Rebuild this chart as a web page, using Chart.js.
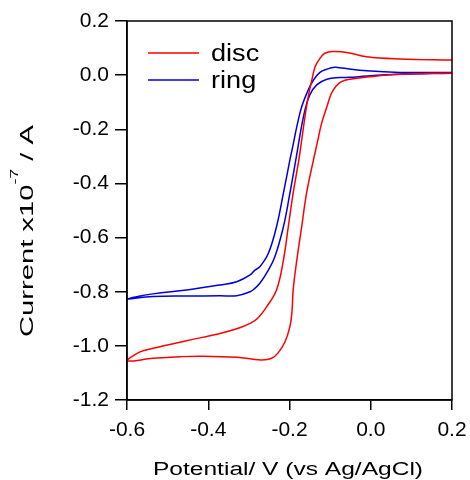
<!DOCTYPE html>
<html>
<head>
<meta charset="utf-8">
<script src="https://cdn.jsdelivr.net/npm/chart.js@4.4.0/dist/chart.umd.min.js"></script>
<style>
  html, body { margin: 0; padding: 0; background: #fff; }
</style>
</head>
<body>
<canvas id="cv" width="470" height="480"></canvas>
<script>
// values (potential in V, current in 1e-7 A)
const seriesNames = ["disc", "ring"];
const seriesColors = ["#ff0000", "#0000dd"];

const discPotential = [0.200, 0.072, -0.009, -0.051, -0.072, -0.085, -0.097, -0.108, -0.121, -0.132,
  -0.141, -0.158, -0.170, -0.182, -0.191, -0.194, -0.199, -0.211, -0.228, -0.244,
  -0.270, -0.330, -0.413, -0.470, -0.536, -0.600, -0.568, -0.536, -0.453, -0.371,
  -0.326, -0.297, -0.279, -0.256, -0.232, -0.215, -0.203, -0.191, -0.177, -0.170,
  -0.162, -0.154, -0.145, -0.137, -0.125, -0.113, -0.093, -0.059, -0.010, 0.072, 0.200];
const discCurrent = [0.008, 0.003, -0.007, -0.015, -0.024, -0.040, -0.068, -0.117, -0.178, -0.252,
  -0.313, -0.436, -0.560, -0.683, -0.794, -0.875, -0.929, -0.985, -1.026, -1.046,
  -1.052, -1.042, -1.038, -1.040, -1.046, -1.055, -1.022, -1.009, -0.981, -0.954,
  -0.935, -0.917, -0.899, -0.855, -0.794, -0.683, -0.560, -0.436, -0.313, -0.240,
  -0.154, -0.080, -0.018, 0.031, 0.062, 0.081, 0.087, 0.084, 0.068, 0.060, 0.056];

const ringPotential = [0.200, 0.072, -0.010, -0.051, -0.076, -0.108, -0.133, -0.150, -0.162, -0.172,
  -0.183, -0.199, -0.215, -0.236, -0.252, -0.273, -0.287, -0.297, -0.330, -0.371,
  -0.453, -0.536, -0.600, -0.536, -0.453, -0.371, -0.330, -0.297, -0.285, -0.273,
  -0.252, -0.232, -0.215, -0.199, -0.192, -0.182, -0.170, -0.154, -0.141, -0.125,
  -0.108, -0.088, -0.070, -0.010, 0.072, 0.200];
const ringCurrent = [0.007, 0.003, -0.003, -0.008, -0.009, -0.015, -0.036, -0.073, -0.129, -0.203,
  -0.300, -0.436, -0.560, -0.671, -0.720, -0.769, -0.790, -0.800, -0.815, -0.815,
  -0.816, -0.818, -0.827, -0.808, -0.794, -0.775, -0.763, -0.738, -0.720, -0.708,
  -0.658, -0.560, -0.436, -0.313, -0.264, -0.190, -0.117, -0.055, -0.018, 0.010,
  0.022, 0.029, 0.026, 0.016, 0.010, 0.010];

const xTickValues = [-0.6, -0.4, -0.2, 0.0, 0.2];
const yTickValues = [-1.2, -1.0, -0.8, -0.6, -0.4, -0.2, 0.0, 0.2];

const xTitle = "Potential/ V (vs Ag/AgCl)";
const yTitleParts = ["Current x10", "-7", " / A"];

function toPoints(xs, ys) {
  return xs.map((x, i) => ({ x: x, y: ys[i] }));
}

function fmt(v) {
  if (Math.abs(v) < 1e-9) return "0.0";
  return v.toFixed(1);
}

// frame, axis titles and legend
const extras = {
  id: "extras",
  afterDraw(chart) {
    const ctx = chart.ctx;
    const a = chart.chartArea;
    ctx.save();
    ctx.strokeStyle = "#000";
    ctx.lineWidth = 1.5;
    ctx.strokeRect(a.left, a.top, a.right - a.left, a.bottom - a.top);

    ctx.fillStyle = "#000";
    ctx.textBaseline = "alphabetic";
    ctx.textAlign = "left";

    // x title
    ctx.font = "18px Arial";
    let w = ctx.measureText(xTitle).width;
    let s = 270 / w;
    ctx.save();
    ctx.translate(288, 475);
    ctx.scale(s, 1);
    ctx.fillText(xTitle, -w / 2, 0);
    ctx.restore();

    // y title with superscript
    ctx.font = "18px Arial";
    const w1 = ctx.measureText(yTitleParts[0]).width;
    const w3 = ctx.measureText(yTitleParts[2]).width;
    ctx.font = "11px Arial";
    const w2 = ctx.measureText(yTitleParts[1]).width;
    const tot = w1 + w2 + w3;
    s = 212 / tot;
    ctx.save();
    ctx.translate(33, 231);
    ctx.rotate(-Math.PI / 2);
    ctx.scale(s, 1);
    let x0 = -tot / 2;
    ctx.font = "18px Arial";
    ctx.fillText(yTitleParts[0], x0, 0);
    ctx.font = "11px Arial";
    ctx.fillText(yTitleParts[1], x0 + w1, -15);
    ctx.font = "18px Arial";
    ctx.fillText(yTitleParts[2], x0 + w1 + w2, 0);
    ctx.restore();

    // legend
    chart.data.datasets.forEach((ds, i) => {
      const ly = 53 + i * 27;
      ctx.strokeStyle = ds.borderColor;
      ctx.lineWidth = 1.5;
      ctx.beginPath();
      ctx.moveTo(148, ly);
      ctx.lineTo(199, ly);
      ctx.stroke();
      ctx.save();
      ctx.translate(211, ly + 8);
      ctx.scale(1.18, 1);
      ctx.font = "23px Arial";
      ctx.fillStyle = "#000";
      ctx.fillText(ds.label, 0, 0);
      ctx.restore();
    });
    ctx.restore();
  }
};

new Chart(document.getElementById("cv"), {
  type: "scatter",
  data: {
    datasets: [
      {
        label: seriesNames[0],
        data: toPoints(discPotential, discCurrent),
        borderColor: seriesColors[0],
        borderWidth: 1.5,
        tension: 0.4,
        showLine: true
      },
      {
        label: seriesNames[1],
        data: toPoints(ringPotential, ringCurrent),
        borderColor: seriesColors[1],
        borderWidth: 1.5,
        tension: 0.4,
        showLine: true
      }
    ]
  },
  options: {
    responsive: false,
    animation: false,
    devicePixelRatio: 1,
    layout: { padding: { left: 0, right: 18, top: 21, bottom: 0 } },
    elements: {
      point: { radius: 0, hoverRadius: 0 }
    },
    plugins: {
      legend: { display: false },
      tooltip: { enabled: false }
    },
    scales: {
      x: {
        type: "linear",
        min: -0.6,
        max: 0.2,
        afterBuildTicks: s => { s.ticks = xTickValues.map(v => ({ value: v })); },
        afterFit: s => { s.height = 80; s.paddingLeft = 0; s.paddingRight = 0; },
        ticks: {
          padding: 8,
          color: "#000",
          font: { family: "Arial", size: 21 },
          callback: v => fmt(v)
        },
        grid: { drawOnChartArea: false, tickLength: 10, color: "#000", lineWidth: 1.5 },
        border: { color: "#000", width: 1.5 }
      },
      y: {
        type: "linear",
        min: -1.2,
        max: 0.2,
        afterBuildTicks: s => { s.ticks = yTickValues.map(v => ({ value: v })); },
        afterFit: s => { s.width = 127; s.paddingTop = 0; s.paddingBottom = 0; },
        ticks: {
          padding: 6,
          color: "#000",
          font: { family: "Arial", size: 21 },
          callback: v => fmt(v)
        },
        grid: { drawOnChartArea: false, tickLength: 12, color: "#000", lineWidth: 1.5 },
        border: { color: "#000", width: 1.5 }
      }
    }
  },
  plugins: [extras]
});
</script>
</body>
</html>
